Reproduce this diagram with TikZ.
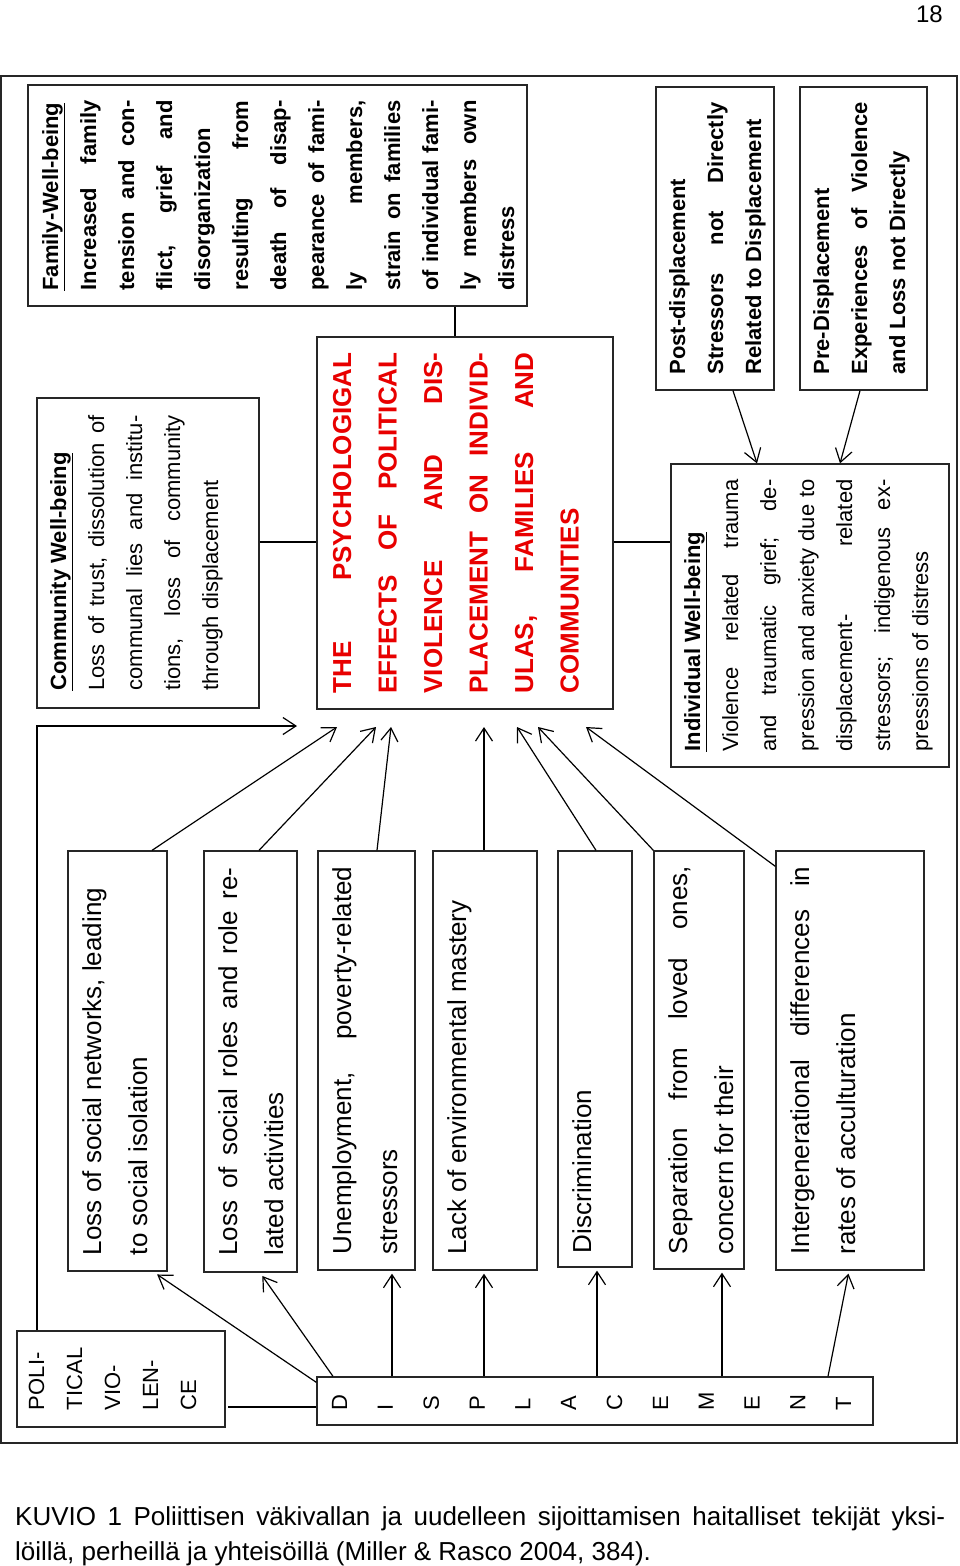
\documentclass[tikz,border=0pt]{standalone}
\usepackage{fontspec}
\usepackage{xcolor}
\usepackage{tikz}
\usetikzlibrary{arrows.meta}
\setmainfont{Liberation Sans}
\definecolor{effred}{RGB}{232,0,0}
\tolerance=10000
\hbadness=10000
\newcommand{\upletter}[1]{\rotatebox{90}{#1}}

\begin{document}
\begin{tikzpicture}[x=1pt, y=-1pt,
    box/.style={rectangle, draw=black!85, line width=1.3pt, rotate=90, inner sep=0pt, align=justify},
    smalltext/.style={font=\fontsize{22}{38}\selectfont},
    smallbold/.style={font=\fontsize{22}{38}\selectfont\bfseries},
    bigtext/.style={font=\fontsize{26}{46}\selectfont},
    bigbold/.style={font=\fontsize{26}{45.5}\selectfont\bfseries},
    arr/.style={-{Straight Barb[length=13pt,width=17pt]}, line width=1.2pt},
    link/.style={line width=1.2pt}]
    \useasboundingbox (0,0) rectangle (960,1566);

    \node (pagenum) [anchor=base east, inner sep=0pt, font=\fontsize{24}{28}\selectfont] at (943,22) {18};
    \draw[line width=1.3pt, black!85] (1,76) rectangle (957,1443);

    % effects and well-being
    \node (family) [box, smallbold, text width=190pt, minimum width=221pt, text height=30pt, text depth=469pt] at (277.5,195.5)
        {\underline{Family-Well-being}\\
         Increased family\linebreak
         tension and con-\linebreak
         flict, grief and\linebreak
         disorganization\\
         resulting from\linebreak
         death of disap-\linebreak
         pearance of fami-\linebreak
         ly members,\linebreak
         strain on families\linebreak
         of individual fami-\linebreak
         ly members own\linebreak
         distress};
    \node (community) [box, smalltext, text width=275pt, minimum width=310pt, text height=29pt, text depth=193pt] at (148,553)
        {\underline{\textbf{Community Well-being}}\\
         Loss of trust, dissolution of\linebreak
         communal lies and institu-\linebreak
         tions, loss of community\linebreak
         through displacement};
    \node (effects) [box, bigbold, text=effred, text width=341pt, minimum width=372pt, text height=34pt, text depth=262pt] at (465,523)
        {THE PSYCHOLOGIGAL\linebreak
         EFFECTS OF POLITICAL\linebreak
         VIOLENCE AND DIS-\linebreak
         PLACEMENT ON INDIVID-\linebreak
         ULAS, FAMILIES AND\linebreak
         COMMUNITIES};
    \node (individual) [box, smalltext, text width=272pt, minimum width=303pt, text height=29pt, text depth=249pt] at (810,615.5)
        {\underline{\textbf{Individual Well-being}}\\
         Violence related trauma\linebreak
         and traumatic grief; de-\linebreak
         pression and anxiety due to\linebreak
         displacement- related\linebreak
         stressors; indigenous ex-\linebreak
         pressions of distress};
    \node (post) [box, smallbold, text width=272pt, minimum width=303pt, text height=29pt, text depth=89pt] at (715,238.5)
        {Post-displacement\\
         Stressors not Directly\linebreak
         Related to Displacement};
    \node (pre) [box, smallbold, text width=272pt, minimum width=303pt, text height=29pt, text depth=98pt] at (863.5,238.5)
        {Pre-Displacement\\
         Experiences of Violence\linebreak
         and Loss not Directly};

    % stressors
    \node (network) [box, bigtext, text width=388pt, minimum width=420pt, text height=33pt, text depth=66pt] at (117.5,1061)
        {Loss of social networks, leading\\to social isolation};
    \node (roles) [box, bigtext, text width=388pt, minimum width=421pt, text height=33pt, text depth=60pt] at (250.5,1061.5)
        {Loss of social roles and role re-\linebreak lated activities};
    \node (unemploy) [box, bigtext, text width=388pt, minimum width=419pt, text height=33pt, text depth=64pt] at (366.5,1060.5)
        {Unemployment, poverty-related\linebreak stressors};
    \node (mastery) [box, bigtext, text width=388pt, minimum width=419pt, text height=33pt, text depth=71pt] at (485,1060.5)
        {Lack of environmental mastery};
    \node (discrim) [box, bigtext, text width=388pt, minimum width=416pt, text height=33pt, text depth=41pt] at (595,1059)
        {Discrimination};
    \node (separation) [box, bigtext, text width=388pt, minimum width=418pt, text height=33pt, text depth=57pt] at (699,1060)
        {Separation from loved ones,\linebreak concern for their};
    \node (acculture) [box, bigtext, text width=388pt, minimum width=419pt, text height=33pt, text depth=115pt] at (850,1060.5)
        {Intergenerational differences in\linebreak rates of acculturation};

    % causes
    \node (violence) [box, smalltext, align=left, text width=62pt, minimum width=96pt, text height=27pt, text depth=181pt] at (121,1379)
        {POLI-\\TICAL\\VIO-\\LEN-\\CE};
    \node (displace) [rectangle, draw=black!85, line width=1.3pt, minimum width=556pt, minimum height=48pt, inner sep=0pt, font=\fontsize{22}{26}\selectfont] at (595,1401)
        {\hbox to 526pt{\upletter{D}\hfill\upletter{I}\hfill\upletter{S}\hfill\upletter{P}\hfill\upletter{L}\hfill\upletter{A}\hfill\upletter{C}\hfill\upletter{E}\hfill\upletter{M}\hfill\upletter{E}\hfill\upletter{N}\hfill\upletter{T}\hspace{7pt}}};

    \coordinate (tipvio) at (297,726);
    \coordinate (tip1) at (337,727);
    \coordinate (tip2) at (376,727);
    \coordinate (tip3) at (391,727);
    \coordinate (tip4) at (484,727);
    \coordinate (tip5) at (517,727);
    \coordinate (tip6) at (538,727);
    \coordinate (tip7) at (586,727);

    \draw[link] (455,0 |- family.west) -- (455,0 |- effects.east);
    \draw[link] (community.south |- 0,542) -- (effects.north |- 0,542);
    \draw[link] (effects.south |- 0,542) -- (individual.north |- 0,542);
    \draw[arr] (733,0 |- post.west) -- (757,0 |- individual.east);
    \draw[arr] (860,0 |- pre.west) -- (840,0 |- individual.east);

    \draw[arr] (152,0 |- network.east) -- (tip1);
    \draw[arr] (259,0 |- roles.east) -- (tip2);
    \draw[arr] (377,0 |- unemploy.east) -- (tip3);
    \draw[arr] (484,0 |- mastery.east) -- (tip4);
    \draw[arr] (596,0 |- discrim.east) -- (tip5);
    \draw[arr] (separation.north east) -- (tip6);
    \draw[arr] ([yshift=-16pt]acculture.north east) -- (tip7);

    \draw[arr] (37,0 |- violence.east) |- (tipvio);
    \draw[link] (228,1407) -- (displace.west |- 0,1407);

    \draw[arr, shorten >=5pt] ([yshift=-6pt]displace.north west) -- (153,0 |- network.west);
    \draw[arr, shorten >=4pt] (333,0 |- displace.north) -- (260,0 |- roles.west);
    \draw[arr, shorten >=3pt] (392,0 |- displace.north) -- (392,0 |- unemploy.west);
    \draw[arr, shorten >=3pt] (484,0 |- displace.north) -- (484,0 |- mastery.west);
    \draw[arr, shorten >=3pt] (597,0 |- displace.north) -- (597,0 |- discrim.west);
    \draw[arr, shorten >=3pt] (722,0 |- displace.north) -- (722,0 |- separation.west);
    \draw[arr, shorten >=3pt] (828,0 |- displace.north) -- (849,0 |- acculture.west);

    \node (caption) [anchor=base west, text width=930pt, align=justify, inner sep=0pt, font=\fontsize{26}{35}\selectfont] at (15,1525)
        {KUVIO 1 Poliittisen väkivallan ja uudelleen sijoittamisen haitalliset tekijät yksi-\linebreak
         löillä, perheillä ja yhteisöillä (Miller \& Rasco 2004, 384).};
\end{tikzpicture}
\end{document}
